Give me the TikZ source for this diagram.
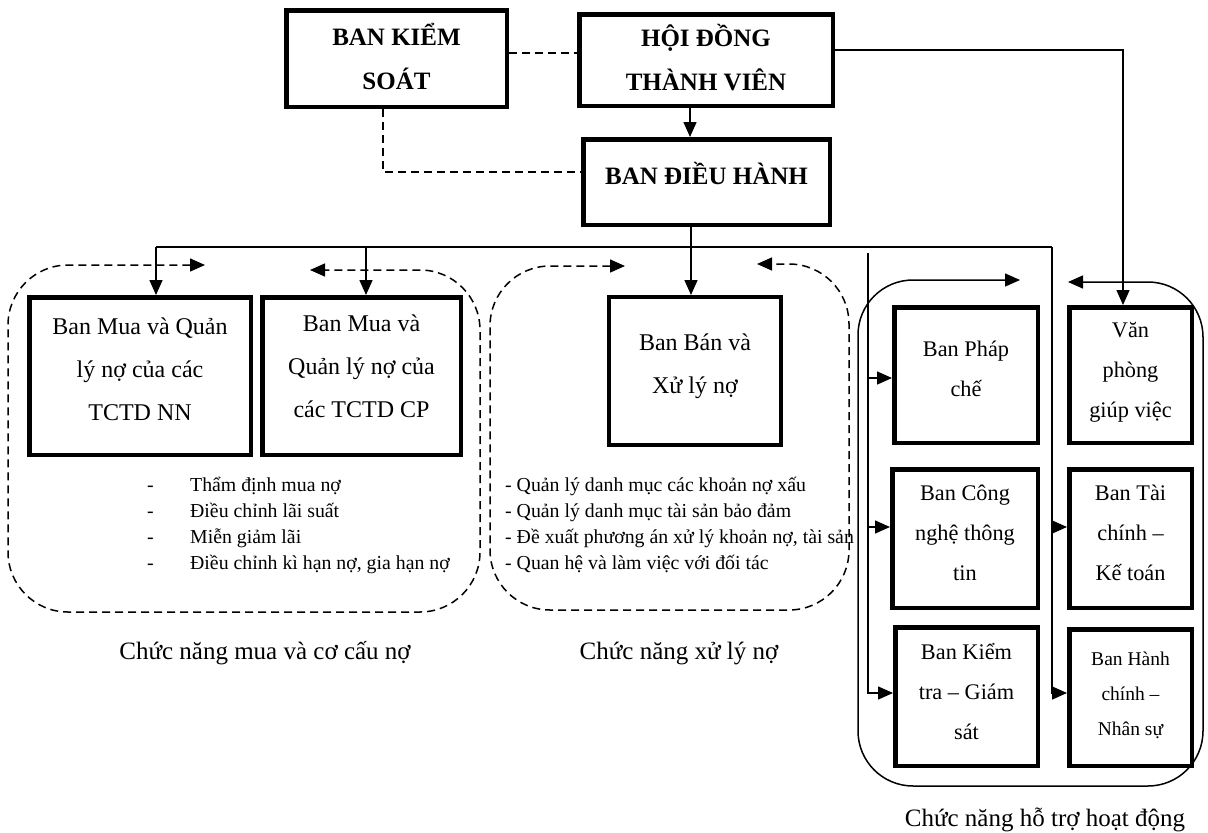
\documentclass[tikz,border=0pt]{standalone}
\usepackage{fontspec}
\setmainfont{Liberation Serif}
\usetikzlibrary{arrows.meta}
\begin{document}
\begin{tikzpicture}[x=1pt,y=-1pt,
  box/.style={draw, line width=4.5pt, inner sep=0pt},
  topt/.style={font=\fontsize{25}{44}\selectfont\bfseries, align=center, inner sep=0pt},
  midt/.style={font=\fontsize{24}{43}\selectfont, align=center, inner sep=0pt},
  rt/.style={font=\fontsize{22.3}{40}\selectfont, align=center, inner sep=0pt},
  smt/.style={font=\fontsize{19.5}{35}\selectfont, align=center, inner sep=0pt},
  lst/.style={font=\fontsize{19.8}{26}\selectfont, align=left, inner sep=0pt, anchor=north west},
  capt/.style={font=\fontsize{25}{30}\selectfont, inner sep=0pt},
  conn/.style={line width=1.5pt},
  dl/.style={line width=1.5pt, dash pattern=on 8pt off 5pt},
  tip/.style={-{Triangle[length=15pt,width=13pt]}},
  tips/.style={{Triangle[length=15pt,width=13pt]}-{Triangle[length=15pt,width=13pt]}}
]
\useasboundingbox (0,0) rectangle (1208,833);

% top boxes
\node[box, minimum width=220.5pt, minimum height=96.5pt,
  label={[topt,yshift=2.5pt]center:BAN KIỂM\\SOÁT}] (bks) at (396.5,58.5) {};
\node[box, minimum width=253.5pt, minimum height=91.5pt,
  label={[topt,yshift=2.5pt]center:HỘI ĐỒNG\\THÀNH VIÊN}] (hdtv) at (706,60) {};
\node[box, minimum width=246.5pt, minimum height=85.5pt,
  label={[topt,yshift=9pt]center:BAN ĐIỀU HÀNH}] (bdh) at (706.5,182) {};

% lower boxes
\node[box, minimum width=221.5pt, minimum height=157.5pt,
  label={[midt,yshift=6.5pt]center:Ban Mua và Quản\\lý nợ của các\\TCTD NN}] (muann) at (140,376) {};
\node[box, minimum width=198.5pt, minimum height=157.5pt,
  label={[midt,yshift=10pt]center:Ban Mua và\\Quản lý nợ của\\các TCTD CP}] (muacp) at (361.5,376) {};
\node[box, line width=4pt, minimum width=172pt, minimum height=148pt,
  label={[midt,yshift=4.5pt]center:Ban Bán và\\Xử lý nợ}] (ban) at (695,371) {};

\node[box, minimum width=143.5pt, minimum height=135.5pt,
  label={[rt,yshift=6pt]center:Ban Pháp\\chế}] (phap) at (966,375) {};
\node[box, minimum width=122.5pt, minimum height=135.5pt,
  label={[rt,yshift=3pt]center:Văn\\phòng\\giúp việc}] (vp) at (1130.5,375) {};
\node[box, minimum width=145.5pt, minimum height=138.5pt,
  label={[rt,yshift=6pt]center:Ban Công\\nghệ thông\\tin}] (cntt) at (965,538.5) {};
\node[box, minimum width=122.5pt, minimum height=138.5pt,
  label={[rt,yshift=6pt]center:Ban Tài\\chính –\\Kế toán}] (tc) at (1130.5,538.5) {};
\node[box, minimum width=142.5pt, minimum height=138.5pt,
  label={[rt,yshift=5pt]center:Ban Kiểm\\tra – Giám\\sát}] (kt) at (966.5,696.5) {};
\node[box, minimum width=122.5pt, minimum height=136.5pt,
  label={[smt,yshift=2pt]center:Ban Hành\\chính –\\Nhân sự}] (hc) at (1130.5,697.5) {};

% lists
\node[lst] (list1) at (147,473) {\strut\makebox[43pt][l]{-}Thẩm định mua nợ\\
  \makebox[43pt][l]{-}Điều chỉnh lãi suất\\
  \makebox[43pt][l]{-}Miễn giảm lãi\\
  \makebox[43pt][l]{-}Điều chỉnh kì hạn nợ, gia hạn nợ};
\node[lst] (list2) at (505,473) {\strut- Quản lý danh mục các khoản nợ xấu\\
  - Quản lý danh mục tài sản bảo đảm\\
  - Đề xuất phương án xử lý khoản nợ, tài sản\\
  - Quan hệ và làm việc với đối tác};

% captions
\node[capt] (cap1) at (265,653) {Chức năng mua và cơ cấu nợ};
\node[capt] (cap2) at (679,653) {Chức năng xử lý nợ};
\node[capt] (cap3) at (1045,820) {Chức năng hỗ trợ hoạt động};

% dashed links to Ban Kiem Soat
\draw[dl] (bks.east |- 0,53) -- (hdtv.west |- 0,53);
\draw[dl] (bks.south -| 383,0) |- (bdh.west |- 0,172);

% main links
\draw[conn,tip] (hdtv.south -| 690,0) -- (bdh.north -| 690,0);
\draw[conn,tip] (hdtv.east |- 0,50) -| (vp.north -| 1123,0);
\draw[conn,tip] (bdh.south -| 691,0) -- (ban.north -| 691,0);
\coordinate (dl) at (156,247);
\coordinate (dr) at (1052,247);
\draw[conn] (dl) -- (dr);
\draw[conn,tip] (dl) -- (muann.north -| 156,0);
\draw[conn,tip] (366,247) -- (muacp.north -| 366,0);

% right-side feeders
\coordinate (lv) at (868,253);
\draw[conn,tip] (lv) |- (kt.west |- 0,693);
\draw[conn,tip] (868,378) -- (phap.west |- 0,378);
\draw[conn,tip] (868,527) -- (cntt.west |- 0,527);
\draw[conn,tip] (dr) |- (hc.west |- 0,693);
\draw[conn,tip] (1052,527) -- (tc.west |- 0,527);

% group outlines
\draw[dl,tips,rounded corners=60pt] (205,265) -- (8,265) -- (8,612) -- (480,612) -- (480,270) -- (310,270);
\draw[dl,tips,rounded corners=60pt] (625,266) -- (490,266) -- (490,610) -- (849,610) -- (849,264) -- (757,264);
\draw[conn,tips,rounded corners=55pt] (1020,280) -- (858,280) -- (858,786) -- (1203,786) -- (1203,282) -- (1068,282);
\end{tikzpicture}
\end{document}
